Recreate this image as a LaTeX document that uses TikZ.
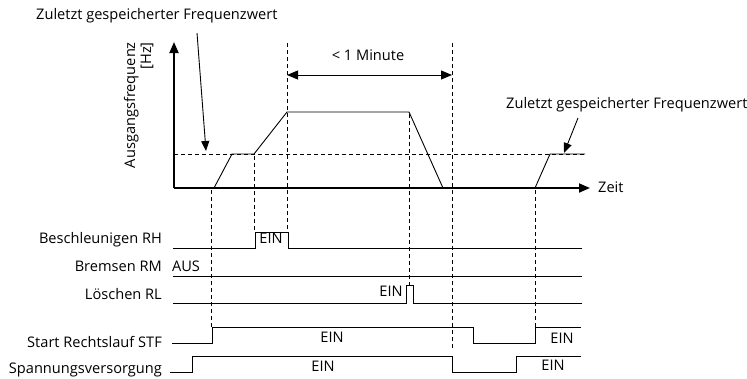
\documentclass[tikz,border=0pt]{standalone}
\usepackage{fontspec}
\setmainfont{Open Sans}
\usetikzlibrary{arrows.meta}
\begin{document}
\begin{tikzpicture}[x=1pt,y=-1pt,
  every node/.style={font=\fontsize{14.6}{16}\selectfont, inner sep=0pt},
  sig/.style={line width=0.9pt},
  dsh/.style={line width=0.7pt, dash pattern=on 4pt off 3pt},
  axis/.style={line width=1.8pt},
  bigtip/.style={-{Triangle[length=11pt,width=9pt]}},
  ptr/.style={line width=0.9pt,-{Triangle[length=10pt,width=8pt]}}]
\useasboundingbox (0,0) rectangle (747,378);
% axes
\coordinate (O) at (174,188);
\coordinate (Ytop) at (174,42);
\coordinate (Xend) at (590,188);
\draw[axis,bigtip] (O) -- (Ytop);
\draw[axis,bigtip] (O) -- (Xend);
\node[anchor=base west] (zeit) at (598,192) {Zeit};
\node[rotate=90, anchor=base east] (ylab) at (135,42) {Ausgangsfrequenz};
\node[rotate=90, anchor=base east] (yunit) at (151,42) {[Hz]};
% dashed level
\draw[dsh] (174,154) -- (585,154);
% frequency curve
\draw[sig] (214,188) -- (232,154) -- (254,154) -- (287,112) -- (409,112) -- (443,188);
\draw[sig] (535,188) -- (550,154) -- (585,154);
% dashed verticals
\draw[dsh] (211,190) -- (211,327);
\draw[dsh] (254,156) -- (254,232);
\draw[dsh] (287,43) -- (287,232);
\draw[dsh] (409,114) -- (409,285);
\draw[dsh] (452,43) -- (452,348);
\draw[dsh] (535,190) -- (535,327);
% < 1 Minute
\coordinate (m1) at (287,75);
\coordinate (m2) at (452,75);
\draw[line width=0.9pt,{Triangle[length=11pt,width=9pt]}-{Triangle[length=11pt,width=9pt]}] (m1) -- (m2);
\node[anchor=base] (minute) at (368,60) {< 1 Minute};
% top left label
\node[anchor=base west] (zl1) at (36,19) {Zuletzt gespeicherter Frequenzwert};
\coordinate (p1s) at (197,33);
\coordinate (p1e) at (206,151);
\draw[ptr] (p1s) -- (p1e);
% right label
\node[anchor=base west] (zl2) at (506,108) {Zuletzt gespeicherter Frequenzwert};
\coordinate (p2s) at (578,118);
\coordinate (p2e) at (564,153);
\draw[ptr] (p2s) -- (p2e);
% signal labels
\node[anchor=base east] (rh) at (162,243) {Beschleunigen RH};
\node[anchor=base east] (rm) at (162,271) {Bremsen RM};
\node[anchor=base east] (rl) at (162,299) {Löschen RL};
\node[anchor=base east] (stf) at (162,347) {Start Rechtslauf STF};
\node[anchor=base east] (sv) at (162,373) {Spannungsversorgung};
% signals
\draw[sig] (173,248) -- (255,248) -- (255,232) -- (288,232) -- (288,248) -- (582,248);
\node[anchor=base] (rhein) at (271,243) {EIN};
\draw[sig] (173,276) -- (582,276);
\node[anchor=base] (aus) at (186,271) {AUS};
\draw[sig] (173,303) -- (406,303) -- (406,285) -- (413,285) -- (413,303) -- (582,303);
\node[anchor=base] (rlein) at (391,296) {EIN};
\draw[sig] (172,343) -- (212,343) -- (212,327) -- (473,327) -- (473,343) -- (535,343) -- (535,327) -- (581,327);
\node[anchor=base] (stfein1) at (332,342) {EIN};
\node[anchor=base] (stfein2) at (562,343) {EIN};
\draw[sig] (170,372) -- (192,372) -- (192,356) -- (452,356) -- (452,372) -- (516,372) -- (516,356) -- (581,356);
\node[anchor=base] (svein1) at (323,371) {EIN};
\node[anchor=base] (svein2) at (553,370) {EIN};
\end{tikzpicture}
\end{document}
